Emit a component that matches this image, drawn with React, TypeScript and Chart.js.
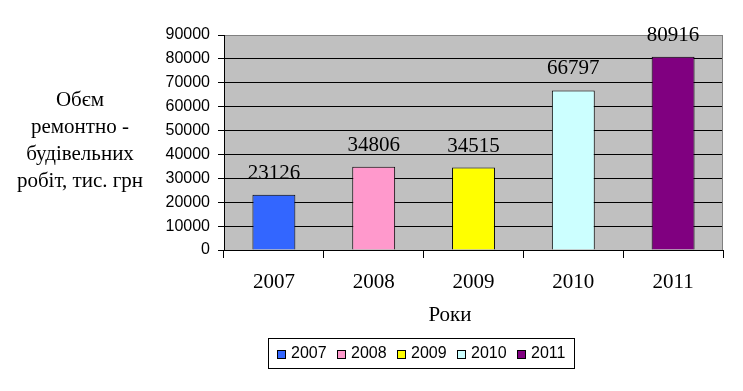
import React, { useEffect, useRef } from "react";
import { Chart, registerables } from "chart.js";

Chart.register(...registerables);

const categories = ["2007", "2008", "2009", "2010", "2011"];
const values = [23126, 34806, 34515, 66797, 80916];
const barColors = ["#3366ff", "#ff99cc", "#ffff00", "#ccffff", "#800080"];
const yMin = 0;
const yMax = 90000;
const yStep = 10000;
const yTitleLines = ["Обєм", "ремонтно -", "будівельних", "робіт, тис. грн"];
const xTitle = "Роки";

const SERIF = "'Liberation Serif', 'Times New Roman', serif";
const SANS = "'Liberation Sans', Arial, sans-serif";
const PAGE_BG = "#ffffff";

const backgroundPlugin = {
  id: "bgPlot",
  beforeDraw(chart: any) {
    const { ctx, chartArea } = chart;
    ctx.save();
    ctx.fillStyle = PAGE_BG;
    ctx.fillRect(0, 0, chart.width, chart.height);
    ctx.fillStyle = "#c0c0c0";
    ctx.fillRect(chartArea.left, chartArea.top, chartArea.right - chartArea.left, chartArea.bottom - chartArea.top);
    ctx.restore();
  },
  beforeDatasetsDraw(chart: any) {
    const { ctx, chartArea } = chart;
    ctx.save();
    ctx.strokeStyle = "#808080";
    ctx.lineWidth = 1;
    ctx.beginPath();
    const r = Math.round(chartArea.right) - 0.5;
    ctx.moveTo(r, chartArea.top);
    ctx.lineTo(r, chartArea.bottom);
    ctx.stroke();
    ctx.restore();
  },
};

const labelsPlugin = {
  id: "valueLabels",
  afterDatasetsDraw(chart: any) {
    const { ctx } = chart;
    const meta = chart.getDatasetMeta(0);
    ctx.save();
    ctx.font = `21px ${SERIF}`;
    ctx.fillStyle = "#000";
    ctx.textAlign = "center";
    ctx.textBaseline = "alphabetic";
    meta.data.forEach((el: any, i: number) => {
      ctx.fillText(String(values[i]), el.x, el.y - 16);
    });
    ctx.restore();
  },
};

const titlesPlugin = {
  id: "titlesLegend",
  afterDraw(chart: any) {
    const { ctx } = chart;
    ctx.save();
    ctx.fillStyle = "#000";
    ctx.font = `21px ${SERIF}`;
    ctx.textAlign = "center";
    ctx.textBaseline = "middle";
    yTitleLines.forEach((line, i) => {
      ctx.fillText(line, 80, 100 + i * 27);
    });
    ctx.fillText(xTitle, 450, 315);

    // legend
    ctx.font = `16px ${SANS}`;
    ctx.textAlign = "left";
    ctx.textBaseline = "middle";
    const boxSize = 8;
    const gap = 6;
    const pad = 9;
    const lw = 306;
    const lh = 30;
    const lx = 268;
    const ly = 338;
    const widths = categories.map((c) => ctx.measureText(c).width);
    const used = widths.reduce((a, w) => a + boxSize + gap + w, 0);
    const spacing = (lw - pad * 2 - used) / (categories.length - 1);
    ctx.strokeStyle = "#000";
    ctx.lineWidth = 1;
    ctx.strokeRect(lx + 0.5, ly + 0.5, lw, lh);
    let x = lx + pad;
    const cy = ly + lh / 2 + 1;
    categories.forEach((c, i) => {
      const bx = Math.round(x);
      ctx.fillStyle = barColors[i];
      ctx.fillRect(bx, cy - boxSize / 2, boxSize, boxSize);
      ctx.strokeStyle = "#000";
      ctx.strokeRect(bx + 0.5, cy - boxSize / 2 + 0.5, boxSize, boxSize);
      ctx.fillStyle = "#000";
      ctx.fillText(c, bx + boxSize + gap, cy);
      x += boxSize + gap + widths[i] + spacing;
    });
    ctx.restore();
  },
};

export default function App() {
  const ref = useRef<HTMLCanvasElement | null>(null);
  useEffect(() => {
    document.body.style.margin = "0";
    const canvas = ref.current;
    if (!canvas) return;
    const chart = new Chart(canvas, {
      type: "bar",
      data: {
        labels: categories,
        datasets: [
          {
            data: values,
            backgroundColor: barColors,
            borderColor: "#000",
            borderWidth: 1,
            barPercentage: 0.43,
            categoryPercentage: 1,
          },
        ],
      },
      options: {
        responsive: false,
        animation: false,
        devicePixelRatio: 1,
        layout: { padding: { left: 0, top: 35, right: 20, bottom: 0 } },
        plugins: {
          legend: { display: false },
          tooltip: { enabled: false },
        },
        scales: {
          x: {
            offset: true,
            afterFit: (s: any) => {
              s.height = 141;
            },
            grid: {
              display: true,
              drawOnChartArea: false,
              drawTicks: true,
              tickLength: 8,
              color: "#000",
              offset: true,
            },
            border: { display: true, color: "#000", width: 1 },
            ticks: {
              color: "#000",
              font: { family: SERIF, size: 21 },
              padding: 12,
              maxRotation: 0,
            },
          },
          y: {
            min: yMin,
            max: yMax,
            afterFit: (s: any) => {
              s.width = 224;
            },
            grid: {
              color: (c: any) => (c.tick && c.tick.value === yMax ? "#808080" : "#000"),
              tickColor: "#000",
              tickLength: 6,
              lineWidth: 1,
            },
            border: { display: true, color: "#000", width: 1 },
            ticks: {
              stepSize: yStep,
              color: "#000",
              font: { family: SANS, size: 16 },
              padding: 8,
              callback: (v: any) => String(v),
            },
          },
        },
      },
      plugins: [backgroundPlugin, labelsPlugin, titlesPlugin],
    });
    return () => chart.destroy();
  }, []);
  return (
    <div style={{ width: 743, height: 391, position: "relative" }}>
      <canvas ref={ref} width={743} height={391} style={{ display: "block" }} />
    </div>
  );
}
